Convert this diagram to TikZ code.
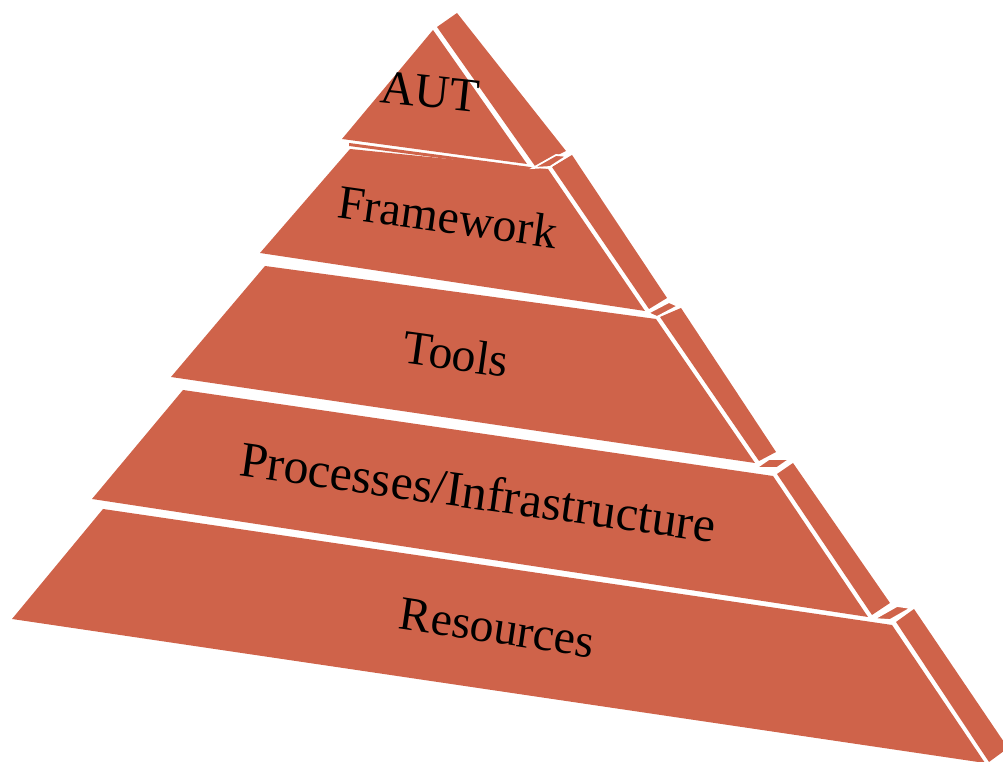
\documentclass[tikz,border=0pt]{standalone}
\usepackage{fontspec}
\setmainfont{Liberation Serif}
\usepackage{tikz}
\definecolor{brick}{RGB}{207,99,74}
\tikzstyle{front} = [fill=brick]
\tikzstyle{side} = [fill=brick]
\tikzstyle{ledge} = [fill=brick, draw=white, line width=0.5pt]
\tikzstyle{tier} = [font=\fontsize{13.6}{16}\selectfont, text=black, inner sep=0pt]

\begin{document}
\begin{tikzpicture}[x=0.01cm, y=-0.01cm]
\clip (0,0) rectangle (1003,762);

% top
\fill [front] (433,30) -- (527,164) -- (342,139) -- cycle;
\fill [side] (437,27) -- (457,13) -- (566,151) -- (535,166) -- cycle;
\fill [side] (349,143) -- (530,167) -- (531,170) -- (349,146) -- cycle;

% second
\fill [front] (350,149) -- (548,169) -- (645,311) -- (260,253) -- cycle;
\fill [side] (552,167) -- (572,155) -- (667,298) -- (649,309) -- cycle;

% third
\fill [front] (265,266) -- (656,319) -- (755,463) -- (171,377) -- cycle;
\fill [side] (660,317) -- (681,308) -- (776,452) -- (759,461) -- cycle;

% fourth
\fill [front] (183,390) -- (773,476) -- (868,617) -- (92,499) -- cycle;
\fill [side] (777,474) -- (793,463) -- (890,603) -- (872,615) -- cycle;

% base
\fill [front] (103,509) -- (892,625) -- (985,763) -- (12,619) -- cycle;
\fill [side] (896,622) -- (914,609) -- (1008,748) -- (989,762) -- cycle;

% small tops of the side strips
\filldraw [ledge] (533,168) -- (556,155) -- (567,156) -- (550,167) -- cycle;
\filldraw [ledge] (648,313) -- (669,302) -- (678,306) -- (657,317) -- cycle;
\filldraw [ledge] (756,468) -- (769,459) -- (790,459) -- (777,468) -- cycle;
\filldraw [ledge] (874,619) -- (897,606) -- (911,608) -- (890,620) -- cycle;

\node (aut) [tier, rotate=-6] at (430,92) {AUT};
\node (framework) [tier, rotate=-8] at (448,217) {Framework};
\node (tools) [tier, rotate=-8] at (456,354) {Tools};
\node (processes) [tier, rotate=-8, font=\fontsize{14.2}{17}\selectfont] at (478,492) {Processes/Infrastructure};
\node (resources) [tier, rotate=-8.5] at (497,628) {Resources};

\end{tikzpicture}
\end{document}
